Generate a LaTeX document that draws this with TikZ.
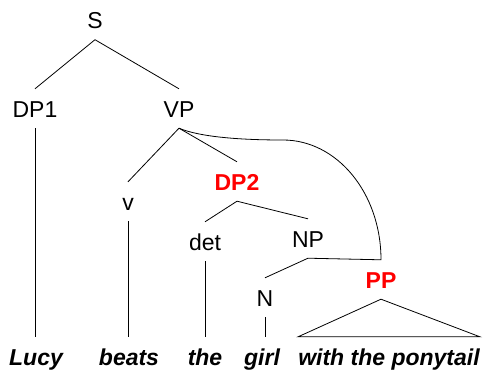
\documentclass[tikz,border=0pt]{standalone}
\usepackage{fontspec}
\setmainfont{Liberation Sans}
\begin{document}
\begin{tikzpicture}[x=1pt,y=-1pt,
  lab/.style={font=\fontsize{23}{27}\selectfont, text height=17pt, text depth=0pt, inner ysep=11pt, inner xsep=0pt, anchor=base},
  redlab/.style={lab, text={rgb,255:red,255;green,0;blue,0}, font=\fontsize{23}{27}\selectfont\bfseries},
  word/.style={lab, font=\fontsize{23}{27}\selectfont\bfseries\itshape},
  edge/.style={draw=black, line width=0.8pt}]
\useasboundingbox (0,0) rectangle (485,372);
\node[lab] (S) at (95,28.5) {S};
\node[lab] (DP1) at (35,117) {DP1};
\node[lab] (VP) at (179,117) {VP};
\node[lab] (v) at (128,210) {v};
\node[redlab] (DP2) at (237,190) {DP2};
\node[lab] (det) at (205,250) {det};
\node[lab] (NP) at (308,247) {NP};
\node[lab] (N) at (265,306) {N};
\node[redlab] (PP) at (381,288) {PP};
\node[word] (Lucy) at (36,365) {Lucy};
\node[word] (beats) at (129,365) {beats};
\node[word] (the) at (205,365) {the};
\node[word] (girl) at (262,365) {girl};
\node[word] (wpt) at (389,365) {with the ponytail};
\draw[edge] (S.south) -- (DP1.north);
\draw[edge] (S.south) -- (VP.south |- DP1.north);
\draw[edge] (DP1.south) -- (DP1.south |- Lucy.north);
\draw[edge] (VP.south) -- (v.north);
\draw[edge] (VP.south) -- (DP2.north);
\draw[edge] (v.south) -- (v.south |- beats.north);
\draw[edge] (DP2.south) -- (det.north);
\draw[edge] (DP2.south) -- (NP.north);
\draw[edge] (det.south) -- (det.south |- the.north);
\draw[edge] (NP.south) -- (N.north);
\draw[edge] (N.south) -- (N.south |- girl.north);
\draw[edge] (PP.south) -- (wpt.north east) -- (wpt.north west) -- cycle;
\draw[edge] (VP.south) .. controls (200,137) and (240,140) .. (283,140)
  .. controls (337,140) and (381,193) .. (PP.north) -- (NP.south);
\end{tikzpicture}
\end{document}
